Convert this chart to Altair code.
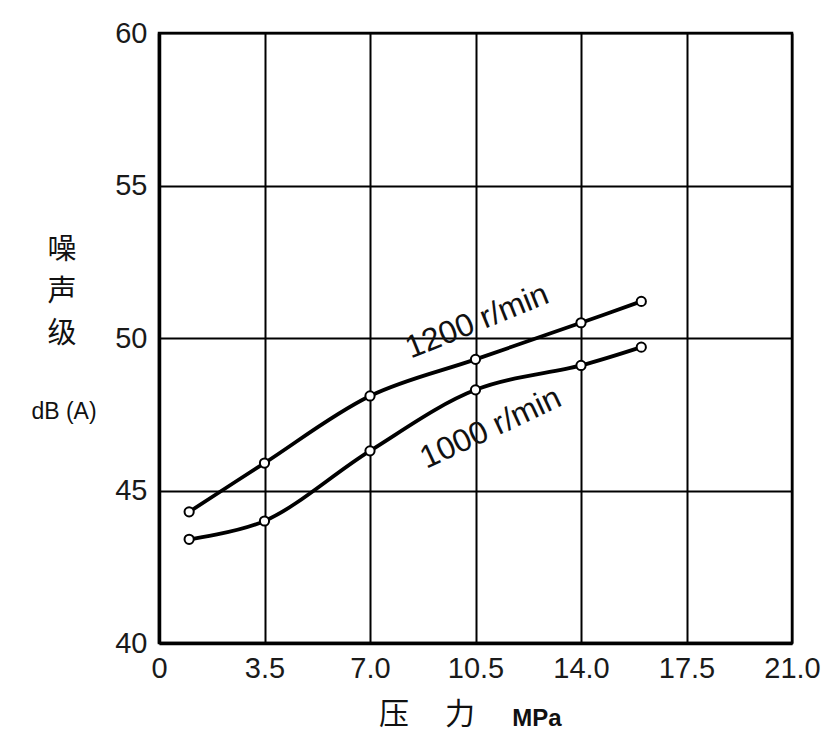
import altair as alt
import pandas as pd

pressure = [1.0, 3.5, 7.0, 10.5, 14.0, 16.0]
noise_1200 = [44.3, 45.9, 48.1, 49.3, 50.5, 51.2]
noise_1000 = [43.4, 44.0, 46.3, 48.3, 49.1, 49.7]
x_ticks = [0, 3.5, 7.0, 10.5, 14.0, 17.5, 21.0]
y_ticks = [40, 45, 50, 55, 60]
speed_labels = ["1200 r/min", "1000 r/min"]
label_x = [10.55, 11.0]
label_y = [50.55, 47.05]
label_angle = [338, 335]

rows = []
for p, a in zip(pressure, noise_1200):
    rows.append({"p": p, "db": a, "s": "1200"})
for p, b in zip(pressure, noise_1000):
    rows.append({"p": p, "db": b, "s": "1000"})
df = pd.DataFrame(rows)

xs = alt.Scale(domain=[0, 21], nice=False, zero=False)
ys = alt.Scale(domain=[40, 60], nice=False, zero=False)

xax = alt.Axis(values=x_ticks, grid=True, gridColor="black", gridWidth=2, gridOpacity=1,
               ticks=False, domainColor="black", domainWidth=3.5,
               labelExpr="datum.value == 0 ? '0' : format(datum.value, '.1f')",
               labelFontSize=29, labelFont="Liberation Sans", labelColor="#1a1a1a",
               labelPadding=11, title=None, labelFlush=False)
yax = alt.Axis(values=y_ticks, grid=True, gridColor="black", gridWidth=2, gridOpacity=1,
               ticks=False, domainColor="black", domainWidth=3.5,
               labelFontSize=29, labelFont="Liberation Sans", labelColor="#1a1a1a",
               labelPadding=12, title=None, labelFlush=False)

base = alt.Chart(df)
lines = base.mark_line(color="black", strokeWidth=3.8, interpolate="catmull-rom").encode(
    x=alt.X("p:Q", scale=xs, axis=xax),
    y=alt.Y("db:Q", scale=ys, axis=yax),
    detail="s:N",
)
pts = base.mark_point(shape="circle", filled=False, fill="white", fillOpacity=1,
                      stroke="black", strokeWidth=2, size=85, opacity=1).encode(
    x=alt.X("p:Q", scale=xs),
    y=alt.Y("db:Q", scale=ys),
)

lbl_layers = []
for t, lx, ly, ang in zip(speed_labels, label_x, label_y, label_angle):
    d = pd.DataFrame({"p": [lx], "db": [ly], "t": [t]})
    lbl_layers.append(
        alt.Chart(d).mark_text(font="Liberation Sans", fontSize=32, angle=ang,
                               align="center", baseline="middle", color="#111").encode(
            x=alt.X("p:Q", scale=xs), y=alt.Y("db:Q", scale=ys), text="t:N")
    )

ytitle_chars = ["噪", "声", "级"]
ytitle_y = [217, 259, 301]
ann = []
for ch, yy in zip(ytitle_chars, ytitle_y):
    ann.append(alt.Chart(pd.DataFrame({"t": [ch]})).mark_text(
        font="Noto Sans CJK SC", fontSize=29, align="center", baseline="middle", color="#111"
    ).encode(x=alt.value(-97), y=alt.value(yy), text="t:N"))
ann.append(alt.Chart(pd.DataFrame({"t": ["dB (A)"]})).mark_text(
    font="Liberation Sans", fontSize=23, align="center", baseline="middle", color="#111"
).encode(x=alt.value(-95), y=alt.value(379), text="t:N"))
ann.append(alt.Chart(pd.DataFrame({"t": ["压"]})).mark_text(
    font="Noto Sans CJK SC", fontSize=30, align="center", baseline="middle", color="#111"
).encode(x=alt.value(235), y=alt.value(682), text="t:N"))
ann.append(alt.Chart(pd.DataFrame({"t": ["力"]})).mark_text(
    font="Noto Sans CJK SC", fontSize=30, align="center", baseline="middle", color="#111"
).encode(x=alt.value(301), y=alt.value(682), text="t:N"))
ann.append(alt.Chart(pd.DataFrame({"t": ["MPa"]})).mark_text(
    font="Liberation Sans", fontSize=24, fontWeight="bold", align="center", baseline="middle", color="#111"
).encode(x=alt.value(378), y=alt.value(686), text="t:N"))

chart = alt.layer(lines, pts, *lbl_layers, *ann).properties(
    width=633, height=610,
    autosize=alt.AutoSizeParams(type="none"),
    padding={"left": 151, "top": 25, "right": 29, "bottom": 94},
    background="white",
).configure_view(stroke="black", strokeWidth=2.5)

chart.save("out.html", embed_options={"renderer": "svg", "actions": False})
